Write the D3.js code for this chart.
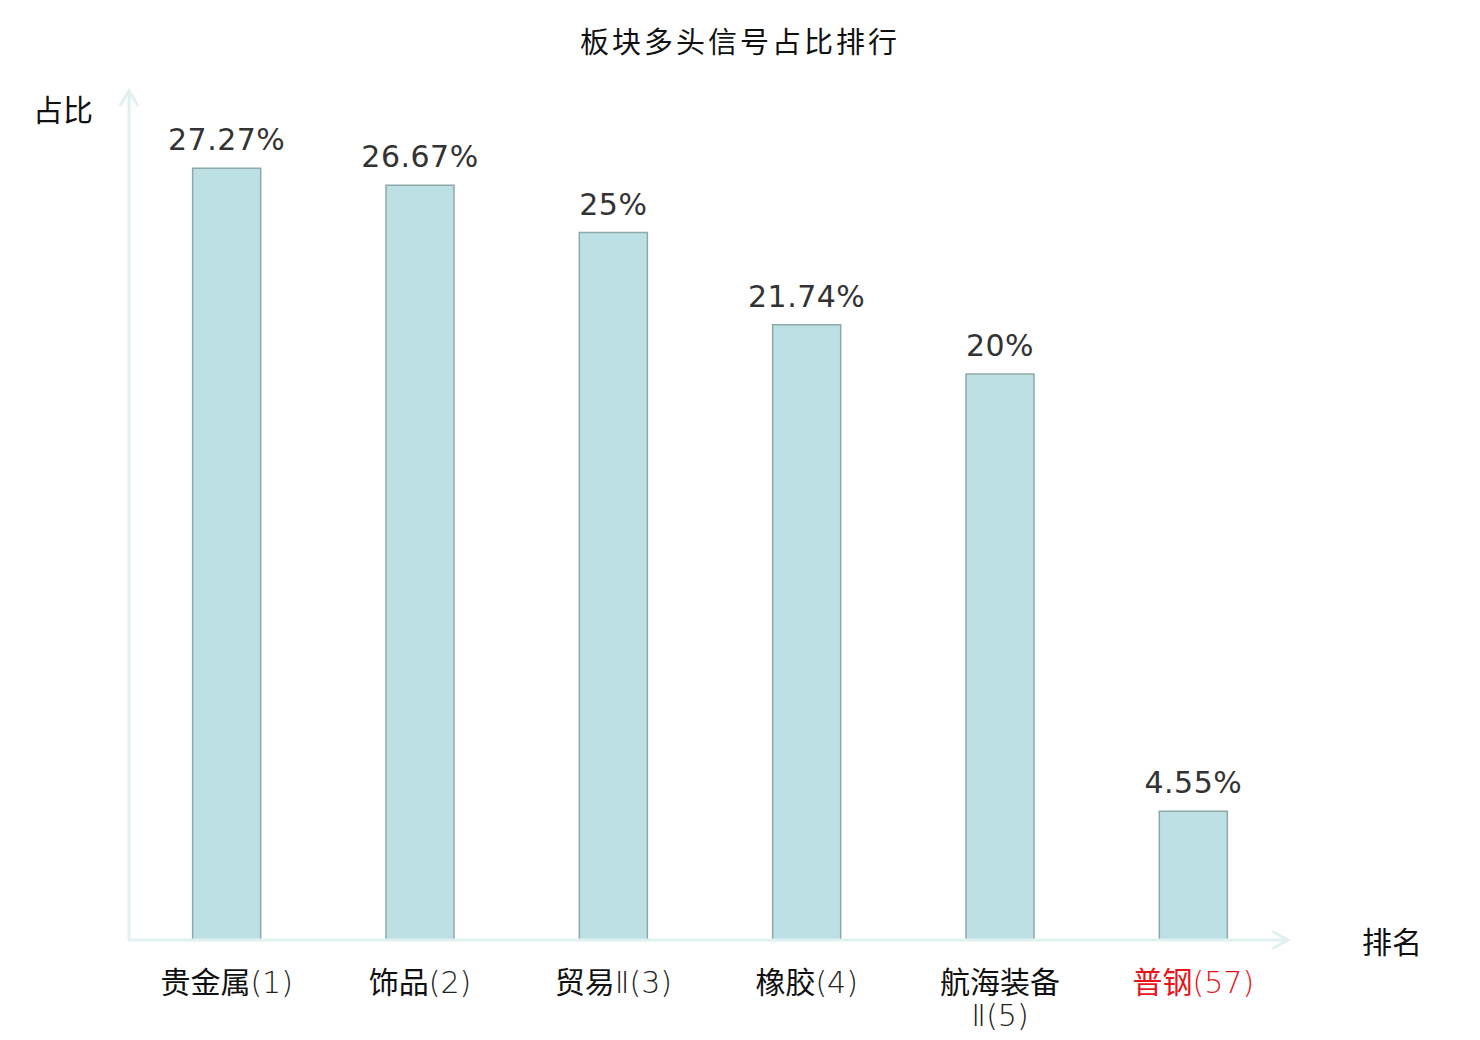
<!DOCTYPE html>
<html>
<head>
<meta charset="utf-8">
<script src="https://cdn.jsdelivr.net/npm/d3@7"></script>
<style>
  body { margin: 0; background: #fff; }
  svg { display: block; }
</style>
</head>
<body>
<svg id="chart" width="1480" height="1040"></svg>
<script>
// data
var categories = ["贵金属", "饰品", "贸易Ⅱ", "橡胶", "航海装备Ⅱ", "普钢"];
var ranks = [1, 2, 3, 4, 5, 57];
var values = [27.27, 26.67, 25, 21.74, 20, 4.55];
var valueLabels = ["27.27%", "26.67%", "25%", "21.74%", "20%", "4.55%"];

var svg = d3.select("#chart");
var font = "'Noto Sans CJK SC', 'DejaVu Sans', sans-serif";
var numFont = "'DejaVu Sans', sans-serif";

var x0 = 130, x1 = 1290, yBase = 940, yTop = 91;

var x = d3.scaleBand()
  .domain(d3.range(categories.length))
  .range([x0, x1]);

var y = d3.scaleLinear()
  .domain([0, 30])
  .range([yBase, yTop]);

var barW = x.step() * 0.352;

// title
svg.append("text")
  .attr("x", 740).attr("y", 53)
  .attr("text-anchor", "middle")
  .style("font-family", font)
  .style("font-size", "29px")
  .style("letter-spacing", "3px")
  .style("fill", "#111")
  .text("板块多头信号占比排行");

// bars
svg.selectAll(".bar")
  .data(values)
  .enter()
  .append("rect")
  .attr("class", "bar")
  .attr("x", function(d, i){ return x(i) + (x.bandwidth() - barW) / 2; })
  .attr("y", function(d){ return y(d); })
  .attr("width", barW)
  .attr("height", function(d){ return yBase - y(d); })
  .style("fill", "#bce0e3")
  .style("stroke", "#8fa9a9")
  .style("stroke-width", 1.5);

// value labels
svg.selectAll(".val")
  .data(values)
  .enter()
  .append("text")
  .attr("class", "val")
  .attr("x", function(d, i){ return x(i) + x.bandwidth() / 2; })
  .attr("y", function(d){ return y(d) - 18; })
  .attr("text-anchor", "middle")
  .style("font-family", numFont)
  .style("font-size", "30px")
  .style("letter-spacing", "0.5px")
  .style("fill", "#333")
  .text(function(d, i){ return valueLabels[i]; });

// axes with arrows
var axisColor = "#dff2ef";
svg.append("line")
  .attr("x1", x0 - 1).attr("y1", yBase)
  .attr("x2", x0 - 1).attr("y2", 90)
  .style("stroke", axisColor).style("stroke-width", 3);
svg.append("path")
  .attr("d", "M" + (x0 - 10) + ",106 L" + (x0 - 1) + ",91 L" + (x0 + 8) + ",106")
  .style("fill", "none").style("stroke", axisColor).style("stroke-width", 3);
svg.append("line")
  .attr("x1", x0 - 2).attr("y1", yBase)
  .attr("x2", 1288).attr("y2", yBase)
  .style("stroke", axisColor).style("stroke-width", 3);
svg.append("path")
  .attr("d", "M1272,931 L1288," + yBase + " L1272,949")
  .style("fill", "none").style("stroke", axisColor).style("stroke-width", 3);

// axis names
svg.append("text")
  .attr("x", 63).attr("y", 121)
  .attr("text-anchor", "middle")
  .style("font-family", font).style("font-size", "30px").style("fill", "#111")
  .text("占比");
svg.append("text")
  .attr("x", 1392).attr("y", 953)
  .attr("text-anchor", "middle")
  .style("font-family", font).style("font-size", "30px").style("fill", "#111")
  .text("排名");

// category labels
categories.forEach(function(d, i){
  var cx = x(i) + x.bandwidth() / 2;
  var color = i === categories.length - 1 ? "#e8141b" : "#111";
  var rank = "(" + ranks[i] + ")";
  var hasII = d.indexOf("Ⅱ") >= 0;
  var name = d.replace("Ⅱ", "");
  var wrap = name.length > 3;

  var t = svg.append("text")
    .attr("class", "cat")
    .attr("x", cx).attr("y", 993)
    .attr("text-anchor", "middle")
    .style("font-size", "30px")
    .style("fill", color);
  t.append("tspan").style("font-family", font).text(name);
  var rest = (hasII ? "Ⅱ" : "") + rank;
  var t2 = t;
  if (wrap) {
    t2 = svg.append("text")
      .attr("class", "cat2")
      .attr("x", cx).attr("y", 1026)
      .attr("text-anchor", "middle")
      .style("font-size", "30px")
      .style("fill", color);
  }
  t2.append("tspan")
    .style("font-family", numFont)
    .style("font-weight", 200)
    .style("fill", i === categories.length - 1 ? "#e8141b" : "#222")
    .text(rest);
});
</script>
</body>
</html>
